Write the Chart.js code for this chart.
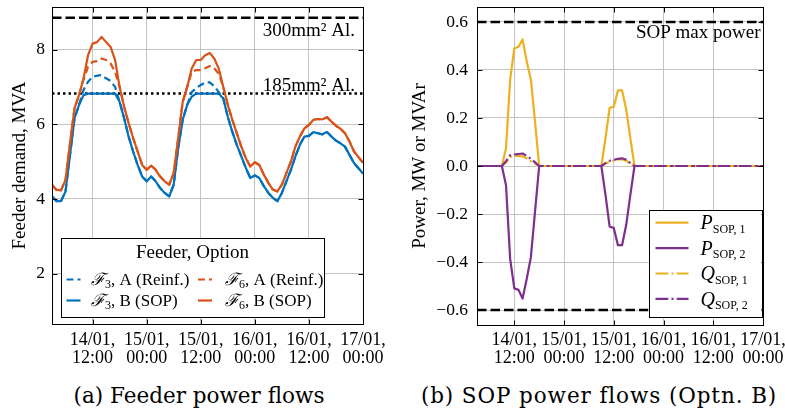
<!DOCTYPE html>
<html>
<head>
<meta charset="utf-8">
<script src="https://cdn.jsdelivr.net/npm/chart.js@4.4.1/dist/chart.umd.min.js"></script>
<style>
  html, body { margin: 0; padding: 0; background: #fff; overflow: hidden; width: 785px; height: 418px; }
  #feederWrap { position: absolute; left: 0; top: 0; width: 392px; height: 370px; }
  #sopWrap { position: absolute; left: 392px; top: 0; width: 400px; height: 370px; }
  .caption { position: absolute; top: 383.6px; font-family: "DejaVu Serif", serif; font-size: 21.5px; line-height: 24px; text-align: center; color: #000; white-space: nowrap; }
</style>
</head>
<body>
<div id="feederWrap"><canvas id="feederChart" width="392" height="370"></canvas></div>
<div id="sopWrap"><canvas id="sopChart" width="400" height="370"></canvas></div>
<div class="caption" style="left:0;width:398px">(a) Feeder power flows</div>
<div class="caption" style="left:399px;width:400px;letter-spacing:0.9px">(b) SOP power flows (Optn. B)</div>
<script>
// hours since 14/01 00:00, one point per hour
var hours = [3,4,5,6,7,8,9,10,11,12,13,14,15,16,17,18,19,20,21,22,23,24,25,26,27,28,29,30,31,32,33,34,35,36,37,38,39,40,
  41,42,43,44,45,46,47,48,49,50,51,52,53,54,55,56,57,58,59,60,61,62,63,64,65,66,67,68,69,70,71,72];
var xTickHours = [12, 24, 36, 48, 60, 72];
var xTickLabels = [['14/01,', '12:00'], ['15/01,', '00:00'], ['15/01,', '12:00'], ['16/01,', '00:00'], ['16/01,', '12:00'], ['17/01,', '00:00']];

// (a) feeder demand, MVA
var feederTicks = [2, 4, 6, 8];
var f3Reinf = [4.07,3.94,3.94,4.20,5.18,6.16,6.52,6.92, 7.14,7.27,7.30,7.32,7.23,7.16,7.00,
  6.60,6.16,5.67,5.27,4.91,4.60,4.47,4.60,4.47,4.29,4.16,4.07,
  4.38,5.36,6.12,6.52,6.86,6.97,7.05,7.12,7.12,7.02,6.86,
  6.69,6.20,5.80,5.45,5.14,4.83,4.56,4.63,4.56,4.34,4.16,4.03,3.94,
  4.16,4.47,4.78,5.14,5.45,5.67,5.69,5.79,5.76,5.73,5.79,5.67,5.56,5.49,5.40,5.18,4.96,4.82,4.68];
var f3Sop = [4.07,3.94,3.94,4.20,5.18,6.16,6.52,6.78, 6.82,6.82,6.82,6.82,6.82,6.82,6.82,
  6.60,6.16,5.67,5.27,4.91,4.60,4.47,4.60,4.47,4.29,4.16,4.07,
  4.38,5.36,6.12,6.52,6.74,6.82,6.82,6.82,6.82,6.82,6.82,
  6.69,6.20,5.80,5.45,5.14,4.83,4.56,4.63,4.56,4.34,4.16,4.03,3.94,
  4.16,4.47,4.78,5.14,5.45,5.67,5.69,5.79,5.76,5.73,5.79,5.67,5.56,5.49,5.40,5.18,4.96,4.82,4.68];
var f6Reinf = [4.38,4.24,4.23,4.51,5.49,6.43,6.78,7.20, 7.54,7.67,7.69,7.76,7.72,7.63,7.40,
  7.00,6.47,6.03,5.63,5.27,4.91,4.78,4.89,4.78,4.60,4.47,4.38,
  4.69,5.63,6.60,7.00,7.40,7.45,7.45,7.50,7.56,7.50,7.35,
  7.00,6.52,6.12,5.76,5.40,5.09,4.87,4.98,4.91,4.65,4.43,4.25,4.20,
  4.38,4.69,5.00,5.40,5.67,5.89,5.98,6.12,6.14,6.13,6.19,6.07,5.96,5.88,5.76,5.54,5.27,5.12,4.97];
var f6Sop = [4.38,4.24,4.23,4.51,5.49,6.43,6.78,7.23, 7.85,8.16,8.20,8.34,8.20,8.07,7.72,
  7.00,6.47,6.03,5.63,5.27,4.91,4.78,4.89,4.78,4.60,4.47,4.38,
  4.69,5.63,6.60,7.00,7.49,7.72,7.72,7.85,7.91,7.76,7.49,
  7.00,6.52,6.12,5.76,5.40,5.09,4.87,4.98,4.91,4.65,4.43,4.25,4.20,
  4.38,4.69,5.00,5.40,5.67,5.89,5.98,6.12,6.14,6.13,6.19,6.07,5.96,5.88,5.76,5.54,5.27,5.12,4.97];
var cap300 = 8.85;
var cap185 = 6.82;

// (b) SOP flows, MW / MVAr
var sopTicks = [-0.6, -0.4, -0.2, 0, 0.2, 0.4, 0.6];
var pSop1 = [0,0,0,0,0,0,0, 0.074,0.36,0.49,0.497,0.527,0.435,0.36,0.185,
  0,0,0,0,0,0,0,0, 0,0,0,0,0,0,0,0,
  0.116,0.242,0.247,0.315,0.315,0.235,0.115,
  0,0,0,0,0,0,0,0, 0,0,0,0,0,0,0,0, 0,0,0,0,0,0,0,0, 0,0,0,0,0,0,0,0];
var pSop2 = [0,0,0,0,0,0,0, -0.08,-0.387,-0.51,-0.516,-0.552,-0.47,-0.38,-0.19,
  0,0,0,0,0,0,0,0, 0,0,0,0,0,0,0,0,
  -0.12,-0.253,-0.258,-0.33,-0.33,-0.245,-0.12,
  0,0,0,0,0,0,0,0, 0,0,0,0,0,0,0,0, 0,0,0,0,0,0,0,0, 0,0,0,0,0,0,0,0];
var qSop1 = [0,0,0,0,0,0,0, 0.015,0.038,0.042,0.042,0.04,0.032,0.02,0.01,
  0,0,0,0,0,0,0,0, 0,0,0,0,0,0,0,0,
  0.01,0.018,0.022,0.027,0.028,0.022,0.01,
  0,0,0,0,0,0,0,0, 0,0,0,0,0,0,0,0, 0,0,0,0,0,0,0,0, 0,0,0,0,0,0,0,0];
var qSop2 = [0,0,0,0,0,0,0, 0.02,0.045,0.048,0.05,0.052,0.042,0.03,0.015,
  0,0,0,0,0,0,0,0, 0,0,0,0,0,0,0,0,
  0.012,0.022,0.025,0.03,0.032,0.026,0.012,
  0,0,0,0,0,0,0,0, 0,0,0,0,0,0,0,0, 0,0,0,0,0,0,0,0, 0,0,0,0,0,0,0,0];
var sopMax = 0.6;

var feederLegendTitle = 'Feeder, Option';
var feederLegendSubs = ['3', '6', '3', '6'];
var feederLegendText = [', A (Reinf.)', ', A (Reinf.)', ', B (SOP)', ', B (SOP)'];
var sopLegendSymbols = ['P', 'P', 'Q', 'Q'];
var sopLegendSubs = ['SOP, 1', 'SOP, 2', 'SOP, 1', 'SOP, 2'];

var SERIF = '"Liberation Serif", "Times New Roman", serif';
var BLUE = '#0072BD', ORANGE = '#D95319', YELLOW = '#EDB120', PURPLE = '#7E2F8E';
var GRID = '#c4c4c4';
var DASH = [7, 4], DASHDOT = [12.8, 3.2, 2, 3.2], REF_DASH = [9.5, 4], REF_DOT = [2.5, 3];

function series(values) {
  return hours.map(function (h, i) { return {x: h, y: values[i]}; });
}
function hline(v) {
  return [{x: hours[0], y: v}, {x: hours[hours.length - 1], y: v}];
}
function lineSet(label, data, color, dash, width) {
  return {
    label: label, data: data, borderColor: color, borderWidth: width || 2.2,
    borderDash: dash || [], pointRadius: 0, tension: 0, fill: false, borderJoinStyle: 'round'
  };
}
function drawParts(ctx, x, y, parts) {
  parts.forEach(function (p) {
    ctx.font = p.font;
    ctx.fillText(p.text, x, y + (p.dy || 0));
    x += ctx.measureText(p.text).width;
  });
}

function xScale(height, pad) {
  return {
    type: 'linear', min: hours[0], max: hours[hours.length - 1],
    afterBuildTicks: function (s) { s.ticks = xTickHours.map(function (v) { return {value: v}; }); },
    afterFit: function (s) { s.height = height; s.paddingLeft = 0; s.paddingRight = 0; },
    ticks: {
      color: '#000', padding: pad, maxRotation: 0, autoSkip: false,
      font: {family: SERIF, size: 18, lineHeight: 1},
      callback: function (v, i) { return xTickLabels[i]; }
    },
    grid: {color: GRID, lineWidth: 1, drawTicks: false},
    border: {display: false}
  };
}
function yScale(min, max, tickVals, width, pad, title, titlePad, fmt) {
  return {
    type: 'linear', min: min, max: max,
    afterBuildTicks: function (s) { s.ticks = tickVals.map(function (v) { return {value: v}; }); },
    afterFit: function (s) { s.width = width; s.paddingTop = 0; s.paddingBottom = 0; },
    ticks: {color: '#000', padding: pad, font: {family: SERIF, size: 17.5}, callback: fmt},
    grid: {color: GRID, lineWidth: 1, drawTicks: false},
    border: {display: false},
    title: {display: true, text: title, color: '#000', font: {family: SERIF, size: 19}, padding: {top: titlePad, bottom: 0}}
  };
}

// black box round the axes with inward ticks on every side
var frameTicks = {
  id: 'frameTicks',
  afterDatasetsDraw: function (chart) {
    var ctx = chart.ctx, a = chart.chartArea, x = chart.scales.x, y = chart.scales.y;
    var l = Math.round(a.left) + 0.5, r = Math.round(a.right) + 0.5, t = Math.round(a.top) + 0.5, b = Math.round(a.bottom) + 0.5;
    ctx.save();
    ctx.strokeStyle = '#000';
    ctx.lineWidth = 1;
    ctx.setLineDash([]);
    ctx.strokeRect(l, t, r - l, b - t);
    ctx.beginPath();
    x.ticks.forEach(function (tk) {
      var px = Math.round(x.getPixelForValue(tk.value)) + 0.5;
      ctx.moveTo(px, b); ctx.lineTo(px, b - 5);
      ctx.moveTo(px, t); ctx.lineTo(px, t + 5);
    });
    y.ticks.forEach(function (tk) {
      var py = Math.round(y.getPixelForValue(tk.value)) + 0.5;
      ctx.moveTo(l, py); ctx.lineTo(l + 5, py);
      ctx.moveTo(r, py); ctx.lineTo(r - 5, py);
    });
    ctx.stroke();
    ctx.restore();
  }
};

var feederNotes = {
  id: 'feederNotes',
  afterDatasetsDraw: function (chart) {
    var ctx = chart.ctx, a = chart.chartArea, y = chart.scales.y;
    ctx.save();
    ctx.fillStyle = '#000';
    ctx.font = '19px ' + SERIF;
    ctx.textAlign = 'right';
    ctx.textBaseline = 'alphabetic';
    ctx.fillText('300mm\u00b2 Al.', a.right - 8, y.getPixelForValue(cap300) + 17.7);
    ctx.fillText('185mm\u00b2 Al.', a.right - 8, y.getPixelForValue(cap185) - 3);
    ctx.restore();
  },
  afterDraw: function (chart) {
    var ctx = chart.ctx, a = chart.chartArea;
    var bx = a.left + 9, by = a.bottom - 86, bw = 263, bh = 79;
    var colors = [BLUE, ORANGE, BLUE, ORANGE];
    var dashes = [DASH, DASH, [], []];
    ctx.save();
    ctx.fillStyle = '#fff';
    ctx.fillRect(bx, by, bw, bh);
    ctx.strokeStyle = '#000';
    ctx.lineWidth = 1;
    ctx.strokeRect(Math.round(bx) + 0.5, Math.round(by) + 0.5, bw, bh);
    ctx.fillStyle = '#000';
    ctx.textAlign = 'center';
    ctx.textBaseline = 'alphabetic';
    ctx.font = '19px ' + SERIF;
    ctx.fillText(feederLegendTitle, bx + bw / 2, by + 20);
    ctx.textAlign = 'left';
    for (var i = 0; i < 4; i++) {
      var col = i % 2, row = Math.floor(i / 2);
      var hx = bx + (col ? 137 : 5.5), ly = by + (row ? 62.5 : 41.5);
      ctx.strokeStyle = colors[i];
      ctx.lineWidth = 2.2;
      ctx.setLineDash(dashes[i]);
      ctx.beginPath();
      ctx.moveTo(hx, ly);
      ctx.lineTo(hx + 14, ly);
      ctx.stroke();
      ctx.setLineDash([]);
      drawParts(ctx, bx + (col ? 164 : 30), ly + 5, [
        {text: '\u2131', font: 'italic 17px "DejaVu Serif"'},
        {text: feederLegendSubs[i], font: '12px ' + SERIF, dy: 3.5},
        {text: feederLegendText[i], font: '17px ' + SERIF}
      ]);
    }
    ctx.restore();
  }
};

var sopNotes = {
  id: 'sopNotes',
  afterDatasetsDraw: function (chart) {
    var ctx = chart.ctx, a = chart.chartArea, y = chart.scales.y;
    ctx.save();
    ctx.fillStyle = '#000';
    ctx.font = '19px ' + SERIF;
    ctx.textAlign = 'right';
    ctx.textBaseline = 'alphabetic';
    ctx.fillText('SOP max power', a.right - 2.5, y.getPixelForValue(sopMax) + 16);
    ctx.restore();
  },
  afterDraw: function (chart) {
    var ctx = chart.ctx, a = chart.chartArea;
    var bx = a.right - 114.5, by = a.bottom - 115, bw = 113, bh = 107;
    var colors = [YELLOW, PURPLE, YELLOW, PURPLE];
    var dashes = [[], [], DASHDOT, DASHDOT];
    ctx.save();
    ctx.fillStyle = '#fff';
    ctx.fillRect(bx, by, bw, bh);
    ctx.strokeStyle = '#000';
    ctx.lineWidth = 1;
    ctx.strokeRect(Math.round(bx) + 0.5, Math.round(by) + 0.5, bw, bh);
    ctx.fillStyle = '#000';
    ctx.textAlign = 'left';
    ctx.textBaseline = 'alphabetic';
    for (var i = 0; i < 4; i++) {
      var ly = by + 12.7 + i * 25.4;
      ctx.strokeStyle = colors[i];
      ctx.lineWidth = 2.2;
      ctx.setLineDash(dashes[i]);
      ctx.beginPath();
      ctx.moveTo(bx + 7, ly);
      ctx.lineTo(bx + 40, ly);
      ctx.stroke();
      ctx.setLineDash([]);
      drawParts(ctx, bx + 52, ly + 6.6, [
        {text: sopLegendSymbols[i], font: 'italic 20px ' + SERIF},
        {text: sopLegendSubs[i], font: '12px ' + SERIF, dy: 3.5}
      ]);
    }
    ctx.restore();
  }
};

// first dataset is drawn on top in Chart.js
new Chart(document.getElementById('feederChart'), {
  type: 'line',
  data: {
    datasets: [
      lineSet('F6, B (SOP)', series(f6Sop), ORANGE),
      lineSet('F6, A (Reinf.)', series(f6Reinf), ORANGE, DASH),
      lineSet('F3, B (SOP)', series(f3Sop), BLUE),
      lineSet('F3, A (Reinf.)', series(f3Reinf), BLUE, DASH),
      lineSet('185mm2 Al.', hline(cap185), '#000', REF_DOT, 2.5),
      lineSet('300mm2 Al.', hline(cap300), '#000', REF_DASH, 2.5)
    ]
  },
  options: {
    responsive: false, animation: false, devicePixelRatio: 1,
    layout: {padding: {top: 7, right: 29, left: 0, bottom: 0}},
    plugins: {legend: {display: false}, tooltip: {enabled: false}},
    scales: {
      x: xScale(46, 7),
      y: yScale(0.65, 9.14, feederTicks, 52, 7, 'Feeder demand, MVA', 8.6, function (v) { return String(v); })
    }
  },
  plugins: [frameTicks, feederNotes]
});

new Chart(document.getElementById('sopChart'), {
  type: 'line',
  data: {
    datasets: [
      lineSet('Q SOP,2', series(qSop2), PURPLE, DASHDOT),
      lineSet('Q SOP,1', series(qSop1), YELLOW, DASHDOT),
      lineSet('P SOP,2', series(pSop2), PURPLE),
      lineSet('P SOP,1', series(pSop1), YELLOW),
      lineSet('SOP max', hline(sopMax), '#000', REF_DASH, 2.5),
      lineSet('SOP min', hline(-sopMax), '#000', REF_DASH, 2.5)
    ]
  },
  options: {
    responsive: false, animation: false, devicePixelRatio: 1,
    layout: {padding: {top: 7, right: 29, left: 0, bottom: 0}},
    plugins: {legend: {display: false}, tooltip: {enabled: false}},
    scales: {
      x: xScale(45, 6),
      y: yScale(-0.6625, 0.6625, sopTicks, 85, 9, 'Power, MW or MVAr', 16.6, function (v) { return v.toFixed(1).replace('-', '\u2212'); })
    }
  },
  plugins: [frameTicks, sopNotes]
});
</script>
</body>
</html>
